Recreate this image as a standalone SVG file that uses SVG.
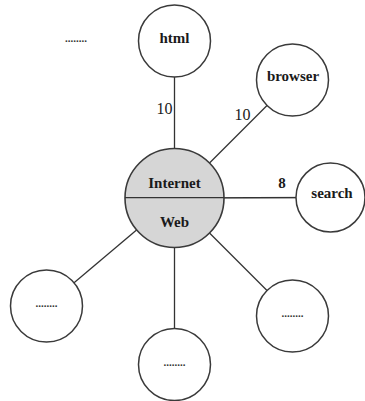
<svg xmlns="http://www.w3.org/2000/svg" width="365" height="401" viewBox="0 0 365 401">
<style>
.n{fill:#fff;stroke:#3a3a3a;stroke-width:1.5}
.c{fill:#d6d6d6;stroke:#3a3a3a;stroke-width:1.6}
.e{stroke:#333;stroke-width:1.3;fill:none}
.t{font-family:"Liberation Serif",serif;font-weight:bold;font-size:15px;fill:#1a1a1a;text-anchor:middle}
.w{font-family:"Liberation Serif",serif;font-size:16px;fill:#1a1a1a;text-anchor:middle}
.d{font-family:"Liberation Serif",serif;font-weight:bold;font-size:11px;fill:#333;text-anchor:middle}
</style>
<rect width="365" height="401" fill="#fff"/>
<g id="connectors">
<line class="e" x1="174.5" y1="198" x2="174.5" y2="41" stroke-width="1"/>
<line class="e" x1="174.5" y1="198" x2="292.5" y2="80"/>
<line class="e" x1="174.5" y1="198" x2="331" y2="197.5"/>
<line class="e" x1="174.5" y1="198" x2="46.5" y2="306"/>
<line class="e" x1="174.5" y1="198" x2="174.5" y2="364.5" stroke-width="1"/>
<line class="e" x1="174.5" y1="198" x2="292.5" y2="316"/>
<text class="w" x="164.5" y="114">10</text>
<text class="w" x="242.5" y="120">10</text>
<text class="t" x="282" y="188">8</text>
</g>
<g id="internet-web">
<circle class="c" cx="174.5" cy="198" r="49.5"/>
<line class="e" x1="125" y1="197.7" x2="224" y2="197.7" stroke-width="1.5"/>
<text class="t" x="174.5" y="188">Internet</text>
<text class="t" x="174.5" y="227">Web</text>
</g>
<g id="html">
<circle class="n" cx="174.5" cy="41" r="36"/>
<text class="t" x="174.5" y="43">html</text>
</g>
<g id="browser">
<circle class="n" cx="292.5" cy="80" r="36"/>
<text class="t" x="293" y="81">browser</text>
</g>
<g id="search">
<circle class="n" cx="330.5" cy="197.5" r="34.5"/>
<text class="t" x="332" y="198">search</text>
</g>
<g id="node-bl">
<circle class="n" cx="46.5" cy="306" r="36"/>
<text class="d" x="46.5" y="307">........</text>
</g>
<g id="node-b">
<circle class="n" cx="174.5" cy="364.5" r="36"/>
<text class="d" x="174.5" y="366">........</text>
</g>
<g id="node-br">
<circle class="n" cx="292.5" cy="316" r="36"/>
<text class="d" x="292.5" y="317">........</text>
</g>
<g id="top-left-label">
<text class="d" x="76" y="42">........</text>
</g>
</svg>
